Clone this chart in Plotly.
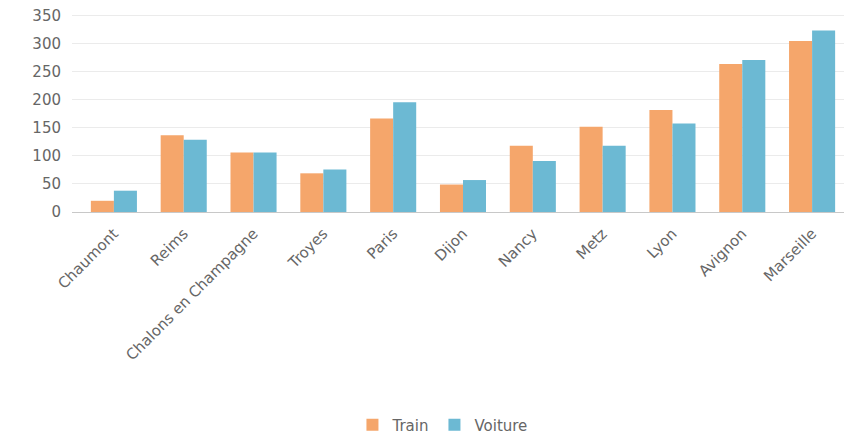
import plotly.graph_objects as go

cities = ["Chaumont", "Reims", "Chalons en Champagne", "Troyes", "Paris", "Dijon",
          "Nancy", "Metz", "Lyon", "Avignon", "Marseille"]
train = [20, 137, 106, 69, 167, 49, 118, 152, 182, 264, 305]
voiture = [38, 129, 106, 76, 196, 57, 91, 118, 158, 271, 324]
y_ticks = [0, 50, 100, 150, 200, 250, 300, 350]

font_family = "DejaVu Sans"
gray = "#666666"

fig = go.Figure()
fig.add_trace(go.Bar(name="Train", x=cities, y=train, marker_color="#F5A66B",
                     marker_line_width=0))
fig.add_trace(go.Bar(name="Voiture", x=cities, y=voiture, marker_color="#6CB9D3",
                     marker_line_width=0))

fig.update_layout(
    width=844, height=428, autosize=False,
    margin=dict(l=64, r=5, t=5, b=224, autoexpand=False),
    paper_bgcolor="white", plot_bgcolor="white",
    barmode="group", bargap=0.34, bargroupgap=0,
    font=dict(family=font_family, size=14, color=gray),
    legend=dict(orientation="h", x=0.478, xanchor="center",
                y=-1.07, yanchor="middle", font=dict(size=15, color=gray),
                itemwidth=30),
    showlegend=True,
)
fig.update_xaxes(range=[-0.6, 10.5], tickangle=-45, showgrid=False, showline=True,
                 linecolor="#C8C8C8", linewidth=1, ticks="", automargin=False,
                 ticklabelstandoff=6, tickfont=dict(size=15, color=gray))
fig.update_yaxes(range=[0, 355], tickvals=y_ticks, showgrid=True, gridcolor="#EBEBEB",
                 zeroline=False, showline=False, ticks="", ticklabelstandoff=10,
                 ticklabeloverflow="allow", automargin=False,
                 tickfont=dict(size=15, color=gray))

fig.write_html("out.html")
